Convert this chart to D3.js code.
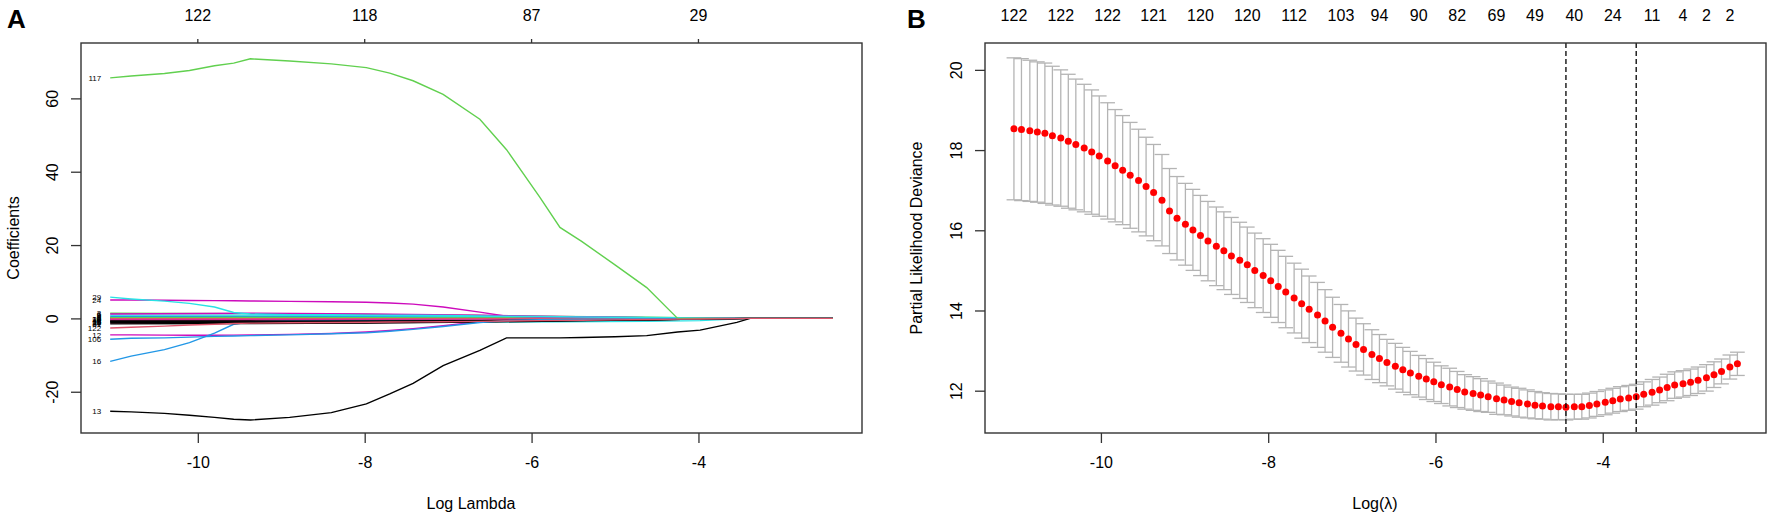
<!DOCTYPE html>
<html lang="en">
<head>
<meta charset="utf-8">
<title>LASSO coefficient paths and CV deviance</title>
<script src="https://cdn.jsdelivr.net/npm/d3@7/dist/d3.min.js"></script>
<style>
  body { margin: 0; background: #fff; }
  svg text { font-family: "Liberation Sans", Arial, sans-serif; fill: #000; }
</style>
</head>
<body>
<script>
// ---- panel A: coefficient paths ----
var pathLogLambda = [-11.05, -10.8, -10.4, -10.1, -9.8, -9.57, -9.37, -8.9, -8.4, -7.98, -7.7, -7.42,
  -7.06, -6.62, -6.3, -5.9, -5.66, -5.4, -5.0, -4.62, -4.25, -3.98, -3.54, -3.38, -2.39];
var coarseLogLambda = [-11.05, -9.37, -7.98, -6.62, -5.66, -4.62, -3.98, -3.38, -2.39];

var coef117 = [65.6, 66.1, 66.8, 67.6, 68.9, 69.6, 70.8, 70.2, 69.4, 68.4, 66.9, 64.8, 61.1, 54.3, 46.0, 33.0, 24.8, 21.0, 14.6, 8.4, 0, 0, 0, 0, 0];
var coef13 = [-25.3, -25.5, -25.9, -26.4, -27.0, -27.5, -27.7, -27.0, -25.7, -23.3, -20.6, -17.7, -12.9, -8.7, -5.3, -5.3, -5.3, -5.2, -5.0, -4.7, -3.7, -3.2, -1.1, 0, 0];
var coef16 = [-11.7, -10.3, -8.5, -6.6, -4.0, -1.6, -0.9, -0.7, -0.6, -0.55, -0.5, -0.5, -0.45, -0.4, -0.35, -0.3, -0.3, -0.25, -0.2, -0.15, -0.1, -0.05, 0, 0, 0];
var coef29 = [5.8, 5.3, 4.7, 4.1, 3.1, 1.6, 1.2, 1.0, 1.0, 0.9, 0.9, 0.85, 0.8, 0.7, 0.6, 0.5, 0.45, 0.4, 0.3, 0.25, 0.2, 0.1, 0, 0, 0];
var coef24 = [5.0, 5.0, 4.95, 4.9, 4.85, 4.8, 4.75, 4.65, 4.55, 4.4, 4.2, 3.9, 3.1, 1.7, 0.6, 0.4, 0.35, 0.3, 0.25, 0.2, 0.1, 0.05, 0, 0, 0];
var coef12 = [-4.5, -4.5, -4.55, -4.6, -4.6, -4.55, -4.5, -4.35, -4.1, -3.7, -3.3, -2.8, -2.0, -0.9, -0.4, -0.2, -0.15, -0.1, -0.05, 0, 0, 0, 0, 0, 0];
var coef106 = [-5.7, -5.4, -5.3, -5.1, -4.9, -4.8, -4.7, -4.5, -4.2, -3.9, -3.5, -3.0, -2.2, -1.1, -0.6, -0.35, -0.3, -0.25, -0.2, -0.15, -0.1, -0.05, 0, 0, 0];
var coef122 = [-2.6, -2.4, -2.1, -1.8, -1.6, -1.4, -1.3, -1.2, -1.1, -1.05, -1.0, -0.95, -0.9, -0.8, -0.7, -0.6, -0.55, -0.5, -0.4, -0.3, -0.2, -0.15, -0.05, 0, 0];

// the many small coefficients packed round zero (coarse grid)
var smallCoefVars = [3, 6, 5, 4, 2, 1, 7, 8, 19, 25, 20, 31, 18, 11, 10, 9, 37, 26];
var smallCoefValues = [
  [1.4, 1.3, 1.1, 0.8, 0.5, 0.3, 0.1, 0, 0],
  [1.2, 1.4, 1.2, 0.9, 0.5, 0.2, 0.1, 0, 0],
  [0.9, 0.9, 0.8, 0.6, 0.4, 0.2, 0.1, 0, 0],
  [0.6, 0.6, 0.5, 0.4, 0.3, 0.15, 0.05, 0, 0],
  [0.3, 0.35, 0.3, 0.2, 0.15, 0.1, 0.05, 0, 0],
  [0.1, 0.1, 0.1, 0.05, 0, 0, 0, 0, 0],
  [-0.5, -0.5, -0.45, -0.4, -0.3, -0.2, -0.1, 0, 0],
  [-0.7, -0.8, -0.7, -0.5, -0.35, -0.2, -0.1, 0, 0],
  [-0.9, -1.0, -0.9, -0.7, -0.5, -0.3, -0.15, 0, 0],
  [-1.1, -1.2, -1.1, -0.8, -0.6, -0.35, -0.2, 0, 0],
  [-1.3, -1.3, -1.2, -0.9, -0.6, -0.4, -0.2, 0, 0],
  [-1.5, -1.4, -1.3, -1.0, -0.7, -0.4, -0.2, 0, 0],
  [-0.3, -0.3, -0.25, -0.2, -0.15, -0.1, -0.05, 0, 0],
  [-1.0, -1.1, -1.1, -1.0, -0.9, -0.8, -0.6, 0, 0],
  [-0.2, -0.2, -0.2, -0.15, -0.1, -0.05, 0, 0, 0],
  [0.2, 0.25, 0.2, 0.15, 0.1, 0.05, 0, 0, 0],
  [-0.7, -0.75, -0.7, -0.6, -0.5, -0.35, -0.2, 0, 0],
  [-0.1, -0.1, -0.1, -0.1, -0.05, 0, 0, 0, 0]
];

var xTicksA = [-10, -8, -6, -4];
var yTicksA = [-20, 0, 20, 40, 60];
var topLabelsA = ["122", "118", "87", "29"];

// ---- panel B: cross-validation ----
var logLambda = [-11.04, -10.95, -10.85, -10.76, -10.67, -10.58, -10.48, -10.39, -10.30, -10.20,
  -10.11, -10.02, -9.92, -9.83, -9.74, -9.65, -9.55, -9.46, -9.37, -9.27,
  -9.18, -9.09, -8.99, -8.90, -8.81, -8.72, -8.62, -8.53, -8.44, -8.34,
  -8.25, -8.16, -8.06, -7.97, -7.88, -7.79, -7.69, -7.60, -7.51, -7.41,
  -7.32, -7.23, -7.13, -7.04, -6.95, -6.86, -6.76, -6.67, -6.58, -6.48,
  -6.39, -6.30, -6.20, -6.11, -6.02, -5.93, -5.83, -5.74, -5.65, -5.55,
  -5.46, -5.37, -5.27, -5.18, -5.09, -5.00, -4.90, -4.81, -4.72, -4.62,
  -4.53, -4.44, -4.34, -4.25, -4.16, -4.07, -3.97, -3.88, -3.79, -3.69,
  -3.60, -3.51, -3.41, -3.32, -3.23, -3.14, -3.04, -2.95, -2.86, -2.76,
  -2.67, -2.58, -2.48, -2.39];
var cvMean = [18.53, 18.51, 18.48, 18.45, 18.42, 18.36, 18.30, 18.22, 18.14, 18.05,
  17.95, 17.85, 17.73, 17.61, 17.50, 17.37, 17.24, 17.09, 16.94, 16.75,
  16.48, 16.30, 16.15, 16.01, 15.87, 15.73, 15.60, 15.49, 15.36, 15.25,
  15.14, 15.00, 14.87, 14.74, 14.60, 14.46, 14.31, 14.17, 14.03, 13.89,
  13.74, 13.58, 13.43, 13.29, 13.15, 13.03, 12.90, 12.80, 12.70, 12.61,
  12.52, 12.44, 12.36, 12.29, 12.22, 12.15, 12.09, 12.03, 11.97, 11.93,
  11.89, 11.85, 11.80, 11.77, 11.73, 11.70, 11.67, 11.64, 11.62, 11.60,
  11.60, 11.59, 11.60, 11.60, 11.63, 11.67, 11.71, 11.75, 11.79, 11.82,
  11.85, 11.91, 11.96, 12.02, 12.08, 12.14, 12.17, 12.21, 12.26, 12.32,
  12.40, 12.48, 12.59, 12.67];
var cvSd = [1.77, 1.77, 1.76, 1.75, 1.75, 1.73, 1.70, 1.67, 1.63, 1.59,
  1.55, 1.50, 1.45, 1.40, 1.36, 1.32, 1.28, 1.23, 1.20, 1.14,
  1.06, 1.04, 1.02, 1.01, 1.00, 0.99, 0.98, 0.97, 0.96, 0.95,
  0.94, 0.93, 0.92, 0.91, 0.90, 0.89, 0.87, 0.86, 0.83, 0.81,
  0.78, 0.75, 0.72, 0.70, 0.66, 0.64, 0.62, 0.60, 0.58, 0.57,
  0.56, 0.54, 0.52, 0.51, 0.49, 0.47, 0.47, 0.45, 0.43, 0.42,
  0.41, 0.39, 0.39, 0.37, 0.36, 0.36, 0.35, 0.34, 0.33, 0.33,
  0.32, 0.32, 0.31, 0.31, 0.31, 0.31, 0.31, 0.31, 0.31, 0.31,
  0.31, 0.31, 0.32, 0.32, 0.33, 0.33, 0.33, 0.33, 0.33, 0.33,
  0.32, 0.31, 0.30, 0.29];
var topLabelsB = ["122", "122", "122", "121", "120", "120", "112", "103", "94", "90",
  "82", "69", "49", "40", "24", "11", "4", "2", "2"];
var topLabelsBAt = [-11.04, -10.48, -9.92, -9.37, -8.81, -8.25, -7.69, -7.13, -6.67, -6.20,
  -5.74, -5.27, -4.81, -4.34, -3.88, -3.41, -3.04, -2.76, -2.48];
var lambdaMin = -4.44, lambda1se = -3.60;
var xTicksB = [-10, -8, -6, -4];
var yTicksB = [12, 14, 16, 18, 20];

// R default palette, recycled by variable number like matplot
var rPalette = ["#000000", "#DF536B", "#61D04F", "#2297E6", "#28E2E5", "#CD0BBC"];
function varColor(v) { return rPalette[(v - 1) % 6]; }

var w = 1772, h = 519;
var plotTop = 43, plotBottom = 433;
var svg = d3.select("body").append("svg").attr("width", w).attr("height", h);

// R prints a plain hyphen for negatives
function plainNum(d) { return String(d); }

function yAxisRotated(g, scale, ticks, x0) {
  g.attr("transform", "translate(" + x0 + ",0)")
    .call(d3.axisLeft(scale).tickValues(ticks).tickSize(10).tickFormat(plainNum))
    .call(function(s) { s.select(".domain").remove(); })
    .call(function(s) { s.selectAll("line").attr("stroke", "#333").attr("stroke-width", 1.3); })
    .selectAll("text")
      .attr("x", null).attr("dy", null)
      .attr("text-anchor", "middle")
      .attr("font-size", 16)
      .attr("transform", "translate(-23,0) rotate(-90)");
}
function xAxisBottom(g, scale, ticks) {
  g.attr("transform", "translate(0," + plotBottom + ")")
    .call(d3.axisBottom(scale).tickValues(ticks).tickSize(10).tickPadding(14).tickFormat(plainNum))
    .call(function(s) { s.select(".domain").remove(); })
    .call(function(s) { s.selectAll("line").attr("stroke", "#333").attr("stroke-width", 1.3); })
    .selectAll("text").attr("font-size", 16);
}

// ================= Panel A =================
var xA = d3.scaleLinear().domain([-11.40, -2.04]).range([81, 862]);
var yA = d3.scaleLinear().domain([-31.25, 75.1]).range([plotBottom, plotTop]);
var gA = svg.append("g");

var pathSeries = [
  {v: 117, vals: coef117}, {v: 13, vals: coef13}, {v: 16, vals: coef16}, {v: 29, vals: coef29},
  {v: 24, vals: coef24}, {v: 12, vals: coef12}, {v: 106, vals: coef106}, {v: 122, vals: coef122}
].map(function(d) { return {v: d.v, xs: pathLogLambda, vals: d.vals}; });
smallCoefVars.forEach(function(v, i) {
  pathSeries.push({v: v, xs: coarseLogLambda, vals: smallCoefValues[i]});
});
pathSeries.sort(function(a, b) { return a.v - b.v; });

var lineA = d3.line()
  .x(function(d) { return xA(d[0]); })
  .y(function(d) { return yA(d[1]); });

gA.selectAll("path.coef").data(pathSeries).enter().append("path")
  .attr("class", "coef")
  .attr("fill", "none")
  .attr("stroke", function(d) { return varColor(d.v); })
  .attr("stroke-width", 1.4)
  .attr("d", function(d) { return lineA(d.vals.map(function(y, i) { return [d.xs[i], y]; })); });

gA.selectAll("text.vlab").data(pathSeries).enter().append("text")
  .attr("class", "vlab")
  .attr("x", xA(pathLogLambda[0]) - 9)
  .attr("y", function(d) { return yA(d.vals[0]); })
  .attr("dy", "0.35em")
  .attr("text-anchor", "end")
  .attr("font-size", 8)
  .text(function(d) { return d.v; });

gA.append("g").call(function(g) { yAxisRotated(g, yA, yTicksA, 81); });
gA.append("g").call(function(g) { xAxisBottom(g, xA, xTicksA); });

gA.selectAll("line.ttick").data(xTicksA).enter().append("line")
  .attr("class", "ttick")
  .attr("x1", function(d) { return xA(d); }).attr("x2", function(d) { return xA(d); })
  .attr("y1", plotTop).attr("y2", plotTop - 4)
  .attr("stroke", "#333").attr("stroke-width", 1.3);
gA.selectAll("text.tlab").data(topLabelsA).enter().append("text")
  .attr("class", "tlab")
  .attr("x", function(d, i) { return xA(xTicksA[i]); })
  .attr("y", 21)
  .attr("text-anchor", "middle")
  .attr("font-size", 16)
  .text(function(d) { return d; });

gA.append("rect")
  .attr("x", 81).attr("y", plotTop).attr("width", 862 - 81).attr("height", plotBottom - plotTop)
  .attr("fill", "none").attr("stroke", "#333").attr("stroke-width", 1.4);

gA.append("text").attr("x", 471).attr("y", 509).attr("text-anchor", "middle")
  .attr("font-size", 16).text("Log Lambda");
gA.append("text").attr("transform", "translate(19,238) rotate(-90)").attr("text-anchor", "middle")
  .attr("font-size", 16).text("Coefficients");
gA.append("text").attr("x", 7).attr("y", 28).attr("font-size", 26).attr("font-weight", "bold").text("A");

// ================= Panel B =================
var xB = d3.scaleLinear().domain([-11.386, -2.048]).range([985, 1766]);
var yB = d3.scaleLinear().domain([10.945, 20.67]).range([plotBottom, plotTop]);
var gB = svg.append("g");
var capHalf = 0.088;

var cv = logLambda.map(function(x, i) {
  return {x: x, m: cvMean[i], up: cvMean[i] + cvSd[i], lo: cvMean[i] - cvSd[i]};
});

var bars = gB.selectAll("g.bar").data(cv).enter().append("g").attr("class", "bar")
  .attr("stroke", "#b4b4b4").attr("stroke-width", 1.3);
bars.append("line")
  .attr("x1", function(d) { return xB(d.x); }).attr("x2", function(d) { return xB(d.x); })
  .attr("y1", function(d) { return yB(d.up); }).attr("y2", function(d) { return yB(d.lo); });
bars.append("line")
  .attr("x1", function(d) { return xB(d.x - capHalf); }).attr("x2", function(d) { return xB(d.x + capHalf); })
  .attr("y1", function(d) { return yB(d.up); }).attr("y2", function(d) { return yB(d.up); });
bars.append("line")
  .attr("x1", function(d) { return xB(d.x - capHalf); }).attr("x2", function(d) { return xB(d.x + capHalf); })
  .attr("y1", function(d) { return yB(d.lo); }).attr("y2", function(d) { return yB(d.lo); });

gB.selectAll("circle").data(cv).enter().append("circle")
  .attr("cx", function(d) { return xB(d.x); })
  .attr("cy", function(d) { return yB(d.m); })
  .attr("r", 3.5)
  .attr("fill", "#ff0000");

gB.selectAll("line.vref").data([lambdaMin, lambda1se]).enter().append("line")
  .attr("class", "vref")
  .attr("x1", function(d) { return xB(d); }).attr("x2", function(d) { return xB(d); })
  .attr("y1", plotTop).attr("y2", plotBottom)
  .attr("stroke", "#000").attr("stroke-width", 1.3).attr("stroke-dasharray", "5,3");

gB.append("g").call(function(g) { yAxisRotated(g, yB, yTicksB, 985); });
gB.append("g").call(function(g) { xAxisBottom(g, xB, xTicksB); });

gB.selectAll("text.tlab").data(topLabelsB).enter().append("text")
  .attr("class", "tlab")
  .attr("x", function(d, i) { return xB(topLabelsBAt[i]); })
  .attr("y", 21)
  .attr("text-anchor", "middle")
  .attr("font-size", 16)
  .text(function(d) { return d; });

gB.append("rect")
  .attr("x", 985).attr("y", plotTop).attr("width", 1766 - 985).attr("height", plotBottom - plotTop)
  .attr("fill", "none").attr("stroke", "#333").attr("stroke-width", 1.4);

gB.append("text").attr("x", 1375).attr("y", 509).attr("text-anchor", "middle")
  .attr("font-size", 16).text("Log(\u03bb)");
gB.append("text").attr("transform", "translate(922,238) rotate(-90)").attr("text-anchor", "middle")
  .attr("font-size", 16).text("Partial Likelihood Deviance");
gB.append("text").attr("x", 907).attr("y", 28).attr("font-size", 26).attr("font-weight", "bold").text("B");
</script>
</body>
</html>
